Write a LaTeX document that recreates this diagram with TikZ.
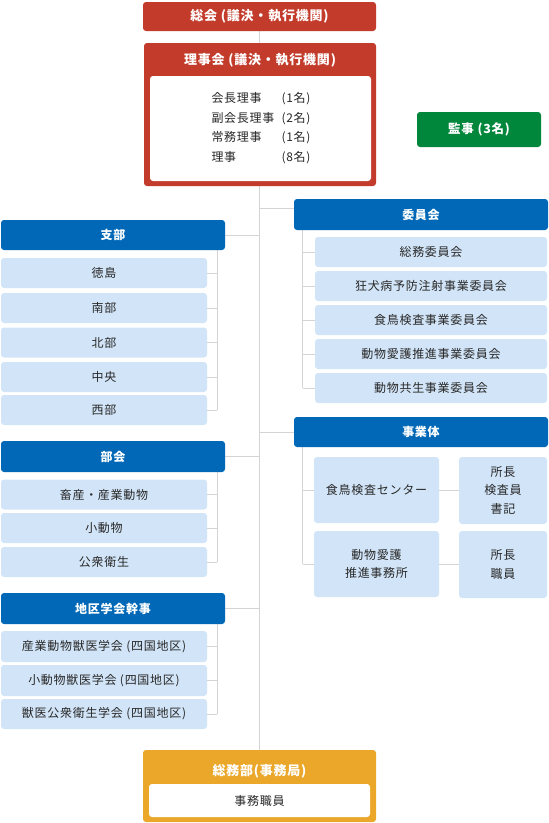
\documentclass[tikz,border=0pt]{standalone}
\usepackage{fontspec}
\usetikzlibrary{backgrounds}
\setmainfont[LetterSpace=6]{Noto Sans CJK JP}
\definecolor{cred}{RGB}{194,59,43}
\definecolor{cblue}{RGB}{0,104,183}
\definecolor{clight}{RGB}{210,229,248}
\definecolor{cgreen}{RGB}{0,135,60}
\definecolor{corange}{RGB}{234,167,42}
\definecolor{cline}{RGB}{212,212,212}
\definecolor{ctxt}{RGB}{40,40,40}
\begin{document}
\begin{tikzpicture}[x=1pt,y=-1pt,
  base/.style={rounded corners=3pt, inner sep=0pt, align=center},
  redbox/.style={base, fill=cred, text=white, font=\bfseries\fontsize{13}{16}\selectfont},
  orangebox/.style={base, fill=corange, text=white},
  whitebox/.style={base, fill=white, text=ctxt, font=\fontsize{12}{19.6}\selectfont},
  greenbox/.style={base, fill=cgreen, text=white, font=\bfseries\fontsize{12.5}{16}\selectfont},
  head/.style={base, fill=cblue, text=white, font=\bfseries\fontsize{12}{16}\selectfont},
  item/.style={base, fill=clight, text=ctxt, font=\fontsize{12}{18.5}\selectfont},
  ttl/.style={inner sep=0pt, text=white, font=\bfseries\fontsize{13}{16}\selectfont},
  conn/.style={draw=cline, line width=0.9pt}
]
\useasboundingbox (0,0) rectangle (549,823);

% top
\node[redbox, minimum width=233pt, minimum height=29pt] (soukai) at (259.5,16.5) {総会 (議決・執行機関)};
\node[base, fill=cred, minimum width=232pt, minimum height=143pt] (rijikai) at (260,114.5) {};
\node[ttl] (rijittl) at (260,60) {理事会 (議決・執行機関)};
\node[whitebox, minimum width=221pt, minimum height=105pt] (rijiin) at (260.5,128.5) {};
\node[inner sep=0pt, align=left, text=ctxt, font=\fontsize{12}{19.6}\selectfont] (rlist) at (261,128) {%
\makebox[70pt][l]{会長理事}(1名)\\
\makebox[70pt][l]{副会長理事}(2名)\\
\makebox[70pt][l]{常務理事}(1名)\\
\makebox[70pt][l]{理事}(8名)};
\node[greenbox, minimum width=124pt, minimum height=35pt] (kanji) at (479,129.5) {監事 (3名)};

% bottom
\node[orangebox, minimum width=233pt, minimum height=72pt] (soumu) at (259.5,786) {};
\node[ttl] (soumuttl) at (259.5,771) {総務部(事務局)};
\node[whitebox, minimum width=221pt, minimum height=33pt, font=\fontsize{12}{16}\selectfont] (soumuin) at (259.5,800.5) {事務職員};

% 支部
\node[head, minimum width=224pt, minimum height=30pt] (shibu) at (113,235) {支部};
\node[item, minimum width=206pt, minimum height=30pt] (s1) at (104,273) {徳島};
\node[item, minimum width=206pt, minimum height=30pt] (s2) at (104,308) {南部};
\node[item, minimum width=206pt, minimum height=30pt] (s3) at (104,342.5) {北部};
\node[item, minimum width=206pt, minimum height=30pt] (s4) at (104,377) {中央};
\node[item, minimum width=206pt, minimum height=30pt] (s5) at (104,410) {西部};
\coordinate (sx) at ([xshift=-8pt]shibu.south east);

% 部会
\node[head, minimum width=224pt, minimum height=31pt] (bukai) at (113,456.5) {部会};
\node[item, minimum width=206pt, minimum height=30pt] (b1) at (104,494.5) {畜産・産業動物};
\node[item, minimum width=206pt, minimum height=30pt] (b2) at (104,528) {小動物};
\node[item, minimum width=206pt, minimum height=30pt] (b3) at (104,562) {公衆衛生};
\coordinate (bx) at ([xshift=-8pt]bukai.south east);

% 地区学会幹事
\node[head, minimum width=224pt, minimum height=31pt] (chiku) at (113,608.5) {地区学会幹事};
\node[item, minimum width=206pt, minimum height=31pt] (c1) at (104,646.5) {産業動物獣医学会 (四国地区)};
\node[item, minimum width=206pt, minimum height=31pt] (c2) at (104,680.5) {小動物獣医学会 (四国地区)};
\node[item, minimum width=206pt, minimum height=30pt] (c3) at (104,714) {獣医公衆衛生学会 (四国地区)};
\coordinate (cx) at ([xshift=-8pt]chiku.south east);

% 委員会
\node[head, minimum width=254pt, minimum height=31pt] (iinkai) at (421,214.5) {委員会};
\node[item, minimum width=232pt, minimum height=30pt] (i1) at (431,252) {総務委員会};
\node[item, minimum width=232pt, minimum height=30pt] (i2) at (431,286) {狂犬病予防注射事業委員会};
\node[item, minimum width=232pt, minimum height=30pt] (i3) at (431,320) {食鳥検査事業委員会};
\node[item, minimum width=232pt, minimum height=30pt] (i4) at (431,354) {動物愛護推進事業委員会};
\node[item, minimum width=232pt, minimum height=30pt] (i5) at (431,388) {動物共生事業委員会};
\coordinate (ix) at ([xshift=9pt]iinkai.south west);
\coordinate (iy) at ([yshift=6pt]iinkai.west);

% 事業体
\node[head, minimum width=254pt, minimum height=30pt] (jigyo) at (421,432) {事業体};
\node[item, minimum width=125pt, minimum height=66pt] (j1) at (376.5,490) {食鳥検査センター};
\node[item, minimum width=88pt, minimum height=67pt] (k1) at (503,490.5) {所長\\検査員\\書記};
\node[item, minimum width=125pt, minimum height=66pt] (j2) at (376.5,564) {動物愛護\\推進事務所};
\node[item, minimum width=88pt, minimum height=67pt] (k2) at (503,564.5) {所長\\職員};
\coordinate (jx) at ([xshift=9pt]jigyo.south west);

\begin{pgfonlayer}{background}
% main line
\draw[conn] (soukai.south) -- (soumu.north);
\draw[conn] (shibu.east) -- (shibu.east -| soukai.south);
\draw[conn] (sx) -- (sx |- s5.east);
\foreach \n in {s1,s2,s3,s4,s5} \draw[conn] (\n.east) -- (\n.east -| sx);
\draw[conn] (bukai.east) -- (bukai.east -| soukai.south);
\draw[conn] (bx) -- (bx |- b3.east);
\foreach \n in {b1,b2,b3} \draw[conn] (\n.east) -- (\n.east -| bx);
\draw[conn] (chiku.east) -- (chiku.east -| soukai.south);
\draw[conn] (cx) -- (cx |- c3.east);
\foreach \n in {c1,c2,c3} \draw[conn] (\n.east) -- (\n.east -| cx);
\draw[conn] (iy) -- (iy -| soukai.south);
\draw[conn] (ix) -- (ix |- i5.west);
\foreach \n in {i1,i2,i3,i4,i5} \draw[conn] (\n.west) -- (\n.west -| ix);
\draw[conn] (jigyo.west) -- (jigyo.west -| soukai.south);
\draw[conn] (jx) -- (jx |- j2.west);
\foreach \n in {j1,j2} \draw[conn] (\n.west) -- (\n.west -| jx);
\draw[conn] (j1.east) -- (j1.east -| k1.west);
\draw[conn] (j2.east) -- (j2.east -| k2.west);
\end{pgfonlayer}
\end{tikzpicture}
\end{document}
